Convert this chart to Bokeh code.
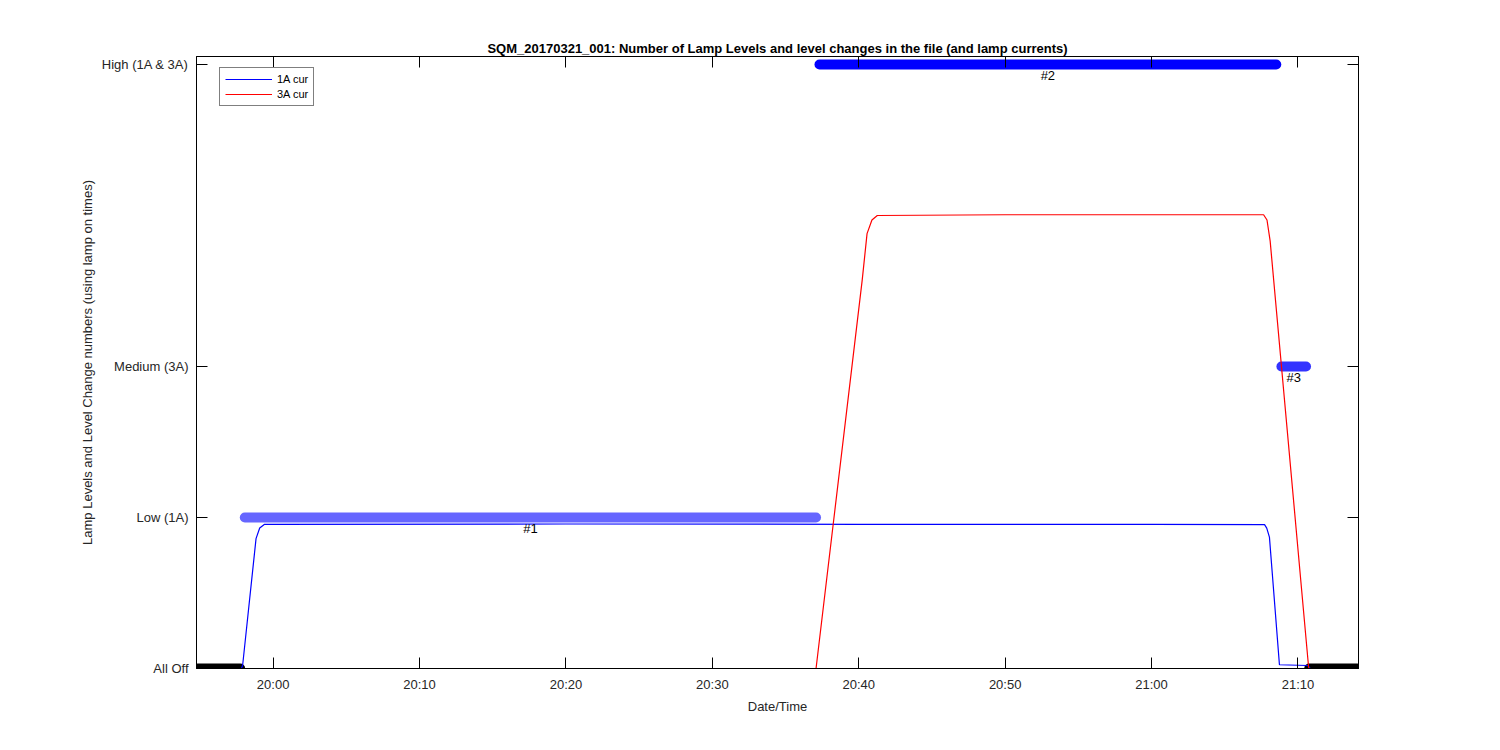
import pandas as pd
from bokeh.plotting import figure
from bokeh.models import (ColumnDataSource, Range1d, FixedTicker, LinearAxis,
                          DatetimeTickFormatter, Legend, LegendItem, Title, BoxAnnotation)
from bokeh.core.properties import value
from bokeh.embed import file_html
from bokeh.resources import INLINE

DAY = "2017-03-21 "
FONT = "Liberation Sans"

# ---- data ----
x_ticks = ["20:00", "20:10", "20:20", "20:30", "20:40", "20:50", "21:00", "21:10"]
y_tick_values = [0, 1, 2, 4]
y_tick_labels = ["All Off", "Low (1A)", "Medium (3A)", "High (1A & 3A)"]

# lamp level segments (level change markers)
seg_start = ["19:54:50", "19:58:04", "20:37:19", "21:08:52", "21:10:46"]
seg_end = ["19:57:45", "20:37:05", "21:08:31", "21:10:33", "21:14:03"]
seg_level = [0, 1, 4, 2, 0]
seg_label = ["", "#1", "#2", "#3", ""]
seg_color = ["#000000", "#6666ff", "#0000ff", "#3333ff", "#000000"]

# 1A lamp current
cur1_time = ["19:57:50", "19:57:55", "19:58:50", "19:59:05", "19:59:25", "20:20:00",
             "20:40:00", "21:00:00", "21:07:43", "21:07:52", "21:08:03", "21:08:44",
             "21:10:40", "21:10:50", "21:14:03"]
cur1_val = [0.0, 0.02, 0.86, 0.93, 0.955, 0.957, 0.955, 0.954, 0.953, 0.93, 0.87, 0.025,
            0.02, 0.0, 0.0]

# 3A lamp current
cur3_time = ["19:57:50", "20:37:05", "20:40:14", "20:40:34", "20:40:54", "20:41:16",
             "20:50:00", "21:00:00", "21:07:39", "21:07:53", "21:08:06", "21:10:44",
             "21:14:03"]
cur3_val = [0.0, 0.0, 2.57, 2.88, 2.97, 3.0, 3.005, 3.005, 3.005, 2.97, 2.83, 0.0, 0.0]

x_start, x_end = "19:54:46", "21:14:08"
y_start, y_end = 0, 4.053

FRAME_W, FRAME_H = 1162, 612
MARKER_R = 5  # px radius of the level markers


def t(lst):
    return pd.to_datetime([DAY + s for s in lst])


x0_ms = t([x_start])[0].value / 1e6
x1_ms = t([x_end])[0].value / 1e6

p = figure(width=1484, height=734, x_axis_type="datetime",
           output_backend="svg", toolbar_location=None,
           x_range=Range1d(x0_ms, x1_ms),
           y_range=Range1d(y_start, y_end),
           min_border_left=196, min_border_right=126,
           min_border_top=56, min_border_bottom=66)
p.background_fill_color = "white"
p.border_fill_color = "white"
p.outline_line_color = "black"
p.outline_line_width = 1
p.grid.visible = False

xt = FixedTicker(ticks=[v.value // 10**6 for v in t(x_ticks)])
fmt = DatetimeTickFormatter(seconds="%H:%M", minsec="%H:%M", minutes="%H:%M",
                            hourmin="%H:%M", hours="%H:%M")

xax = p.below[0]
yax = p.left[0]
xax.ticker = xt
xax.formatter = fmt
yax.ticker = FixedTicker(ticks=y_tick_values)
yax.major_label_overrides = {v: l for v, l in zip(y_tick_values, y_tick_labels)}

p.add_layout(LinearAxis(ticker=xt, major_label_text_alpha=0, major_label_text_font_size="1px",
                        major_label_standoff=0), "above")
p.add_layout(LinearAxis(ticker=FixedTicker(ticks=y_tick_values), major_label_text_alpha=0,
                        major_label_text_font_size="1px", major_label_standoff=0), "right")

for ax in p.axis:
    ax.major_tick_in = 11
    ax.major_tick_out = 0
    ax.minor_tick_line_color = None
    ax.axis_line_color = "black"
    ax.major_tick_line_color = "black"
    ax.major_label_text_font = FONT
    ax.major_label_text_font_size = "13px"
    ax.major_label_text_color = "#262626"
    ax.axis_label_text_font = FONT
    ax.axis_label_text_font_size = "13px"
    ax.axis_label_text_font_style = "normal"
    ax.axis_label_text_color = "#262626"

xax.axis_label = "Date/Time"
xax.major_label_standoff = 8
xax.axis_label_standoff = 4
yax.axis_label = "Lamp Levels and Level Change numbers (using lamp on times)"
yax.major_label_standoff = 8
yax.axis_label_standoff = 4

p.title = Title(text="SQM_20170321_001: Number of Lamp Levels and level changes in the file (and lamp currents)",
                align="center", text_font=FONT, text_font_size="13px", text_font_style="bold",
                text_color="black", standoff=2)

ss, se = t(seg_start), t(seg_end)
ss_ms = [v.value / 1e6 for v in ss]
se_ms = [v.value / 1e6 for v in se]

# markers inside the frame: thick round-capped segments
inner = [i for i, lv in enumerate(seg_level) if lv != 0]
seg_src = ColumnDataSource(dict(x0=[ss_ms[i] for i in inner], x1=[se_ms[i] for i in inner],
                                y=[seg_level[i] for i in inner],
                                color=[seg_color[i] for i in inner]))
p.segment(x0="x0", y0="y", x1="x1", y1="y", source=seg_src, line_color="color",
          line_width=2 * MARKER_R, line_cap="round")

# markers on the axis edge (not clipped, like the original)
dx = MARKER_R * (x1_ms - x0_ms) / FRAME_W
dy = MARKER_R * (y_end - y_start) / FRAME_H
for i, lv in enumerate(seg_level):
    if lv == 0:
        p.add_layout(BoxAnnotation(left=ss_ms[i] - dx, right=se_ms[i] + dx,
                                   bottom=lv - dy, top=lv + dy,
                                   fill_color=seg_color[i], fill_alpha=1,
                                   line_color=None, border_radius=MARKER_R,
                                   level="underlay"))

r1 = p.line([v.value / 1e6 for v in t(cur1_time)], cur1_val, line_color="#0000ff", line_width=1.2)
r3 = p.line([v.value / 1e6 for v in t(cur3_time)], cur3_val, line_color="#ff0000", line_width=1.2)

mids = [(a + b) / 2 for a, b in zip(ss_ms, se_ms)]
lab_src = ColumnDataSource(dict(x=mids, y=seg_level, text=seg_label))
p.text(x="x", y="y", text="text", source=lab_src, text_align="center", text_baseline="top",
       y_offset=3, text_font=value(FONT), text_font_size="13px", text_color="black")

legend = Legend(items=[LegendItem(label="1A cur", renderers=[r1]),
                       LegendItem(label="3A cur", renderers=[r3])],
                location=(23, 612 - 13 - 37), orientation="vertical",
                border_line_color="black", border_line_width=1,
                background_fill_color="white", background_fill_alpha=1,
                label_text_font=FONT, label_text_font_size="11px",
                label_text_color="black",
                glyph_width=47, glyph_height=12, label_height=12, label_standoff=5,
                spacing=3, padding=5, margin=0)
p.add_layout(legend)

open("out.html", "w").write(file_html(p, INLINE))
